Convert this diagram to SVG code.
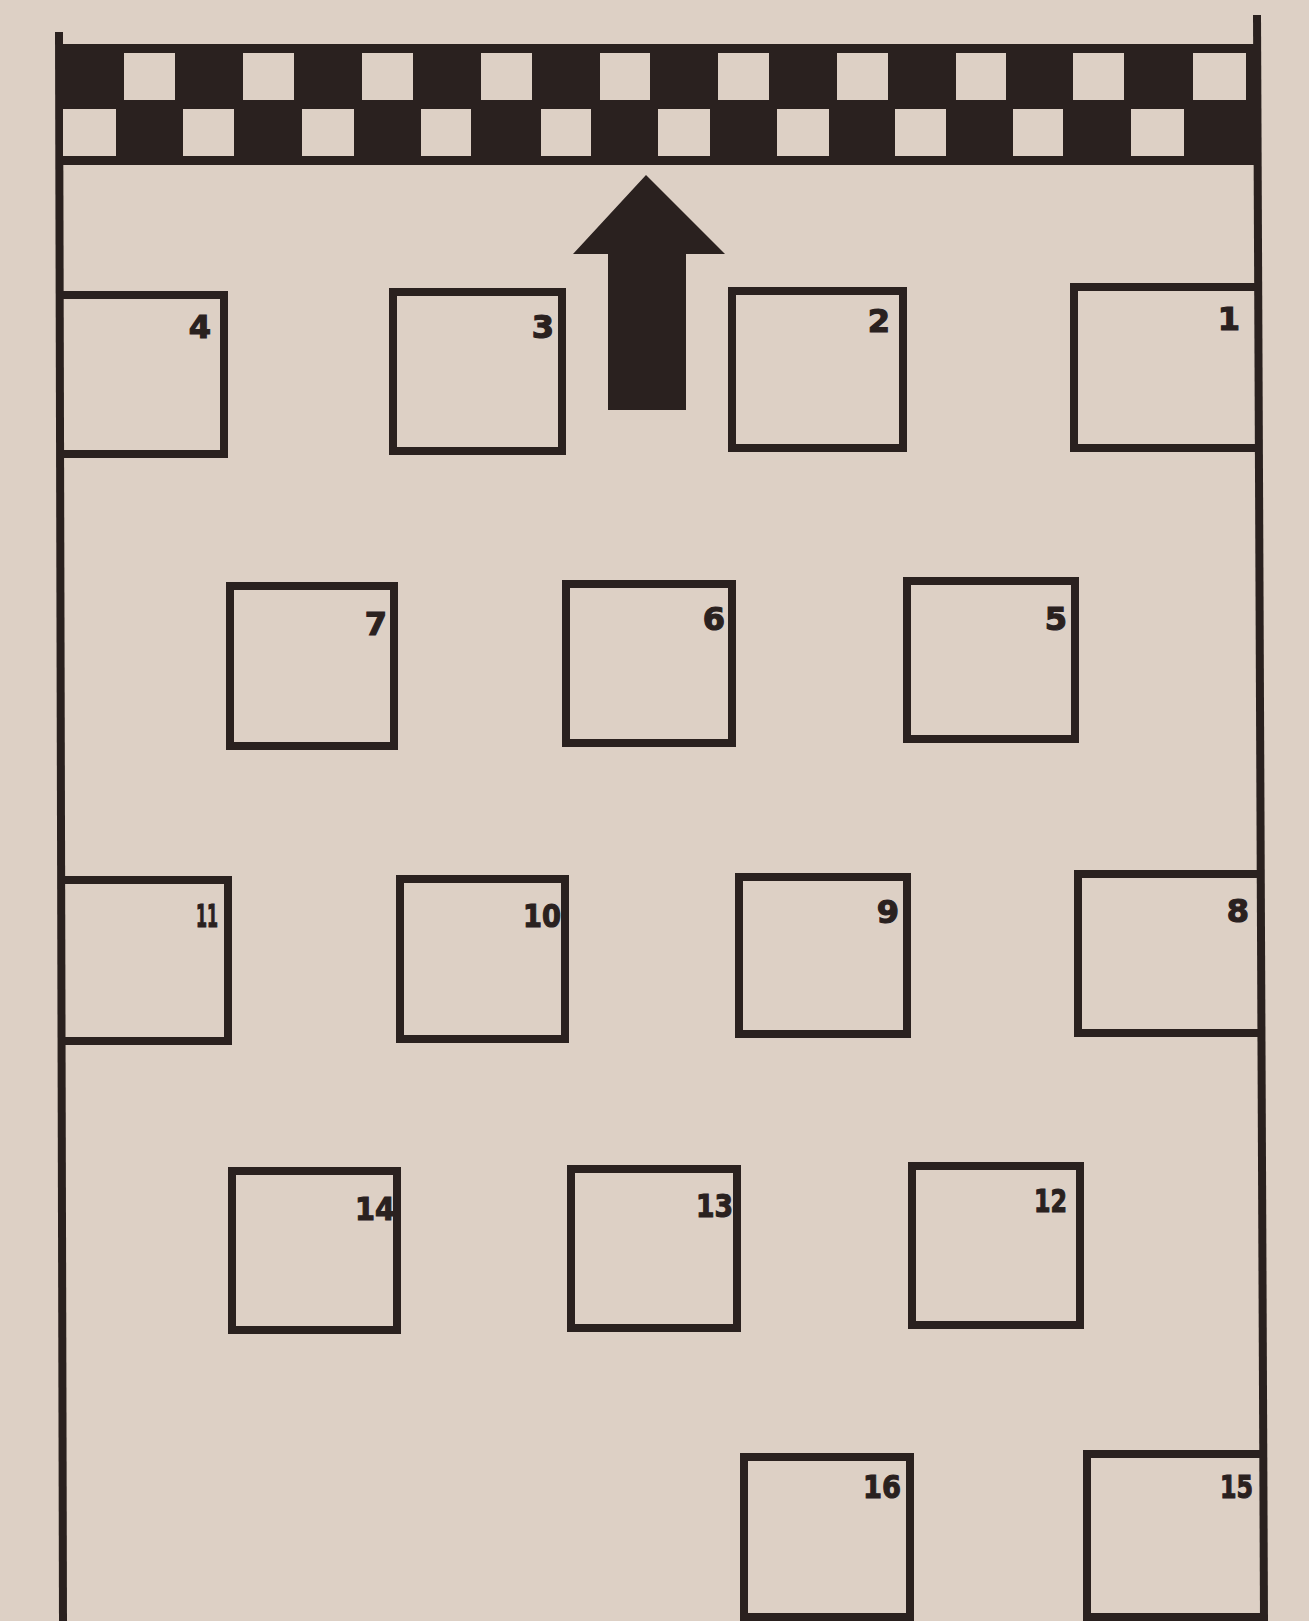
<svg xmlns="http://www.w3.org/2000/svg" width="1309" height="1621" viewBox="0 0 1309 1621">
<defs>
<style>
.wall{stroke:#2a211f;stroke-width:8;fill:none}
.box{stroke:#2a211f;stroke-width:8;fill:none;stroke-linejoin:miter}
.lbl{font-family:"DejaVu Sans","Liberation Sans",sans-serif;font-weight:bold;font-size:32px;fill:#2a211f;stroke:#2a211f;stroke-width:1.2;text-anchor:end}
.sq{fill:#ddd0c5}
</style>
</defs>
<rect x="0" y="0" width="1309" height="1621" fill="#ddd0c5"/>
<g id="walls">
<line class="wall" x1="59" y1="32" x2="63" y2="1621"/>
<line class="wall" x1="1257" y1="15" x2="1264" y2="1621"/>
</g>
<g id="finish-band">
<rect x="59" y="44" width="1198" height="121" fill="#2a211f"/>
<g class="sq">
<rect x="124" y="53" width="51" height="47"/>
<rect x="243" y="53" width="51" height="47"/>
<rect x="362" y="53" width="51" height="47"/>
<rect x="481" y="53" width="51" height="47"/>
<rect x="600" y="53" width="50" height="47"/>
<rect x="718" y="53" width="51" height="47"/>
<rect x="837" y="53" width="51" height="47"/>
<rect x="956" y="53" width="50" height="47"/>
<rect x="1073" y="53" width="51" height="47"/>
<rect x="1193" y="53" width="53" height="47"/>
<rect x="63" y="109" width="53" height="47"/>
<rect x="183" y="109" width="51" height="47"/>
<rect x="302" y="109" width="52" height="47"/>
<rect x="421" y="109" width="50" height="47"/>
<rect x="541" y="109" width="50" height="47"/>
<rect x="658" y="109" width="52" height="47"/>
<rect x="777" y="109" width="52" height="47"/>
<rect x="895" y="109" width="51" height="47"/>
<rect x="1013" y="109" width="50" height="47"/>
<rect x="1131" y="109" width="53" height="47"/>
</g>
</g>
<g id="arrow">
<polygon points="646,175 725,254 686,254 686,410 608,410 608,254 573,254" fill="#2a211f"/>
</g>
<g id="connectors"></g>
<g id="node-1"><polyline class="box" points="1257,287 1074,287 1074,448 1257,448"/><text class="lbl" x="1240" y="330">1</text></g>
<g id="node-2"><rect class="box" x="732" y="291" width="171" height="157"/><text class="lbl" x="890" y="332">2</text></g>
<g id="node-3"><rect class="box" x="393" y="292" width="169" height="159"/><text class="lbl" x="554" y="338">3</text></g>
<g id="node-4"><polyline class="box" points="59,295 224,295 224,454 59,454"/><text class="lbl" x="211" y="338">4</text></g>
<g id="node-5"><rect class="box" x="907" y="581" width="168" height="158"/><text class="lbl" x="1067" y="630">5</text></g>
<g id="node-6"><rect class="box" x="566" y="584" width="166" height="159"/><text class="lbl" x="725" y="630">6</text></g>
<g id="node-7"><rect class="box" x="230" y="586" width="164" height="160"/><text class="lbl" x="387" y="635">7</text></g>
<g id="node-8"><polyline class="box" points="1260,874 1078,874 1078,1033 1260,1033"/><text class="lbl" x="1249" y="922">8</text></g>
<g id="node-9"><rect class="box" x="739" y="877" width="168" height="157"/><text class="lbl" x="899" y="923">9</text></g>
<g id="node-10"><rect class="box" x="400" y="879" width="165" height="160"/><text class="lbl" x="561" y="927" textLength="38" lengthAdjust="spacingAndGlyphs">10</text></g>
<g id="node-11"><polyline class="box" points="62,880 228,880 228,1041 62,1041"/><text class="lbl" x="218" y="927" textLength="22" lengthAdjust="spacingAndGlyphs">11</text></g>
<g id="node-12"><rect class="box" x="912" y="1166" width="168" height="159"/><text class="lbl" x="1067" y="1212" textLength="33" lengthAdjust="spacingAndGlyphs">12</text></g>
<g id="node-13"><rect class="box" x="571" y="1169" width="166" height="159"/><text class="lbl" x="733" y="1217" textLength="37" lengthAdjust="spacingAndGlyphs">13</text></g>
<g id="node-14"><rect class="box" x="232" y="1171" width="165" height="159"/><text class="lbl" x="395" y="1220" textLength="40" lengthAdjust="spacingAndGlyphs">14</text></g>
<g id="node-15"><polyline class="box" points="1264,1454 1087,1454 1087,1617 1264,1617"/><text class="lbl" x="1253" y="1498" textLength="33" lengthAdjust="spacingAndGlyphs">15</text></g>
<g id="node-16"><rect class="box" x="744" y="1457" width="166" height="160"/><text class="lbl" x="901" y="1498" textLength="38" lengthAdjust="spacingAndGlyphs">16</text></g>
</svg>
